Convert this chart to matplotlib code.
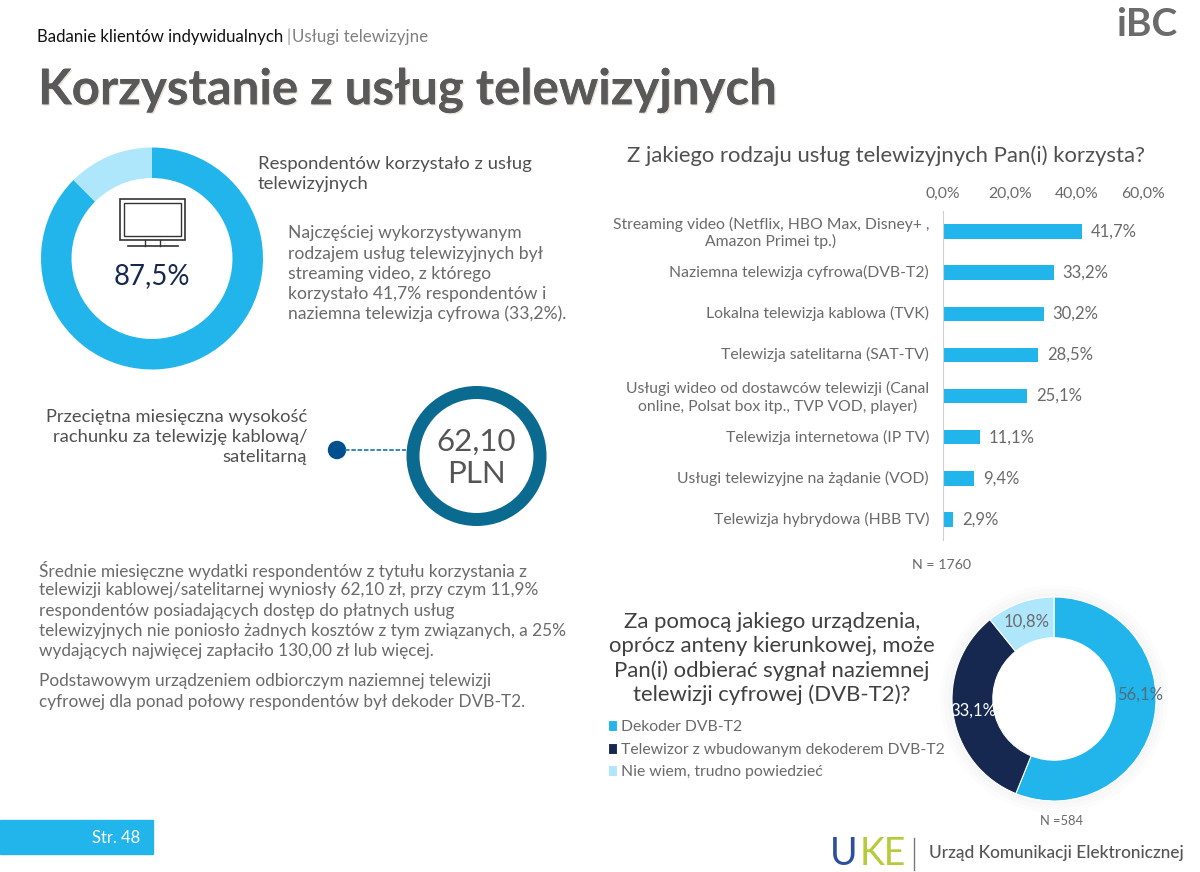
import math
import matplotlib
matplotlib.use("Agg")
from matplotlib import pyplot as plt
from matplotlib import patheffects as pe
from matplotlib.patches import Rectangle, Circle
from matplotlib.transforms import ScaledTranslation

plt.rcParams['font.family'] = ['Lato', 'DejaVu Sans']

W, H = 1200, 872
BLUE = '#22b5ec'
NAVY = '#16284f'
LIGHT = '#aee6fb'
TEAL = '#0b6a8f'
GREY = '#6a6a6a'

# top donut
used_share = [87.5, 12.5]
used_label = '87,5%'

# bars
bar_labels = [
    'Streaming video (Netflix, HBO Max, Disney+ ,\nAmazon Primei tp.)',
    'Naziemna telewizja cyfrowa(DVB-T2)',
    'Lokalna telewizja kablowa (TVK)',
    'Telewizja satelitarna (SAT-TV)',
    'Usługi wideo od dostawców telewizji (Canal\nonline, Polsat box itp., TVP VOD, player)',
    'Telewizja internetowa (IP TV)',
    'Usługi telewizyjne na żądanie (VOD)',
    'Telewizja hybrydowa (HBB TV)',
]
bar_values = [41.7, 33.2, 30.2, 28.5, 25.1, 11.1, 9.4, 2.9]
bar_ticks = [0, 20, 40, 60]

# device donut
device_labels = ['Dekoder DVB-T2', 'Telewizor z wbudowanym dekoderem DVB-T2', 'Nie wiem, trudno powiedzieć']
device_values = [56.1, 33.1, 10.8]
device_colors = [BLUE, NAVY, LIGHT]
device_text = ['#4f6f7c', 'white', GREY]
device_nudge = [(4, 14), (0, 0), (0, 0)]


def pct(v):
    return f'{v:.1f}%'.replace('.', ',')


def px_axes(left, top, right, bottom):
    return fig.add_axes([left / W, 1 - bottom / H, (right - left) / W, (bottom - top) / H])


fig = plt.figure(figsize=(12, 8.72), dpi=100, facecolor='white')

# page layer, in pixels
page = fig.add_axes([0, 0, 1, 1])
page.set_xlim(0, W)
page.set_ylim(H, 0)
page.axis('off')


def lines(x, ys, rows, **kw):
    for y, row in zip(ys, rows):
        page.text(x, y + 1, row, va='center', **kw)


page.text(37, 37, 'Badanie klientów indywidualnych', fontsize=12.1, color='#111111', va='center')
page.text(287, 37, '|', fontsize=12.1, color='#999999', va='center')
page.text(292, 37, 'Usługi telewizyjne', fontsize=12.2, color='#808080', va='center')
title = page.text(38, 90, 'Korzystanie z usług telewizyjnych', fontsize=35.4, fontweight='bold', color='#595959', va='center')
title.set_path_effects([pe.withSimplePatchShadow(offset=(1, -1), shadow_rgbFace='#b9a184', alpha=0.3), pe.Normal()])
page.text(1147, 24, 'iBC', fontsize=28, fontweight='bold', color='#6b6b6b', ha='center', va='center')

# top donut
ax = px_axes(41, 147, 263, 370)
ax.pie(used_share, colors=[BLUE, LIGHT], startangle=90, counterclock=False, radius=1,
       wedgeprops={'width': 0.275})
ax.set_xlim(-1, 1)
ax.set_ylim(-1, 1)

# tv icon
page.add_patch(Rectangle((120, 199), 65, 41, fill=False, ec='#333333', lw=1.2, zorder=5))
page.add_patch(Rectangle((124, 203), 57, 33, fill=False, ec='#333333', lw=1.0, zorder=5))
page.plot([145, 145], [240, 246], color='#333333', lw=1.0, zorder=5)
page.plot([160, 160], [240, 246], color='#333333', lw=1.0, zorder=5)
page.plot([128, 178], [246.5, 246.5], color='#333333', lw=1.2, zorder=5)
page.text(152, 276, used_label, fontsize=19.8, color=NAVY, ha='center', va='center', zorder=5)

lines(258, [163, 183], ['Respondentów korzystało z usług', 'telewizyjnych'], fontsize=13.3, color='#505050')
lines(288, [232, 253, 273, 293, 313],
      ['Najczęściej wykorzystywanym', 'rodzajem usług telewizyjnych był', 'streaming video, z którego',
       'korzystało 41,7% respondentów i', 'naziemna telewizja cyfrowa (33,2%).'],
      fontsize=12.6, color=GREY)

lines(307, [416, 436, 456], ['Przeciętna miesięczna wysokość', 'rachunku za telewizję kablową/', 'satelitarną'],
      fontsize=13.25, color='#505050', ha='right')
page.plot([345, 406], [450, 450], color='#2b7fb0', lw=1.3, ls=(0, (2.5, 1)))
page.add_patch(Circle((337, 450), 8.5, color='#00508f'))
page.add_patch(Circle((476.5, 456), 63.5, fill=False, ec=TEAL, lw=13 * 0.72))
page.text(476, 442, '62,10', fontsize=22.5, color='#555555', ha='center', va='center')
page.text(476, 474, 'PLN', fontsize=22.5, color='#555555', ha='center', va='center')

lines(39, [569, 589, 610, 630, 650],
      ['Średnie miesięczne wydatki respondentów z tytułu korzystania z',
       'telewizji kablowej/satelitarnej wyniosły 62,10 zł, przy czym 11,9%',
       'respondentów posiadających dostęp do płatnych usług',
       'telewizyjnych nie poniosło żadnych kosztów z tym związanych, a 25%',
       'wydających najwięcej zapłaciło 130,00 zł lub więcej.'],
      fontsize=12.45, color=GREY)
lines(39, [680, 701],
      ['Podstawowym urządzeniem odbiorczym naziemnej telewizji',
       'cyfrowej dla ponad połowy respondentów był dekoder DVB-T2.'],
      fontsize=12.45, color=GREY)

page.add_patch(Rectangle((0, 820), 153, 34, color=BLUE))
page.text(116, 838, 'Str. 48', fontsize=12, color='white', ha='center', va='center')

# bar chart
page.text(627, 156, 'Z jakiego rodzaju usług telewizyjnych Pan(i) korzysta?', fontsize=15.9, color='#505050', va='center')
ax = px_axes(943, 211, 1143, 540)
y = list(range(len(bar_values)))
ax.barh(y, bar_values, height=0.35, color=BLUE)
ax.set_xlim(0, 60)
ax.set_ylim(len(bar_values) - 0.5, -0.5)
ax.set_yticks(y, bar_labels, multialignment='center')
ax.set_xticks(bar_ticks, [pct(t) for t in bar_ticks])
ax.xaxis.tick_top()
ax.tick_params(length=0, labelcolor=GREY, labelsize=11.3)
ax.tick_params(axis='y', pad=10)
ax.tick_params(axis='x', pad=7)
# labels sit a bit above the bar centres
up = ScaledTranslation(0, 1.5 / 100, fig.dpi_scale_trans)
for lab in ax.get_yticklabels():
    lab.set_transform(lab.get_transform() + up)
for name in ['top', 'right', 'bottom']:
    ax.spines[name].set_visible(False)
ax.spines['left'].set_color('#d0d0d0')
for i, v in enumerate(bar_values):
    ax.annotate(pct(v), (v, i), xytext=(6.5, 0), textcoords='offset points', va='center',
                fontsize=12, color=GREY)
page.text(942, 565, 'N = 1760', fontsize=10.2, color=GREY, ha='center', va='center')

# device question
for yy, row in zip([621.5, 646, 670.5, 695],
                   ['Za pomocą jakiego urządzenia,', 'oprócz anteny kierunkowej, może',
                    'Pan(i) odbierać sygnał naziemnej', 'telewizji cyfrowej (DVB-T2)?']):
    page.text(772, yy, row, fontsize=15.9, color='#404040', ha='center', va='center')

# soft shadow round the donut
for extra in [4, 8, 12]:
    page.add_patch(Circle((1054, 699), 102 + extra, color='#000000', alpha=0.012, lw=0))

ax = px_axes(952, 597, 1156, 801)
wedges, _ = ax.pie(device_values, colors=device_colors, startangle=90, counterclock=False, radius=1,
                   wedgeprops={'width': 0.4, 'edgecolor': 'white', 'linewidth': 0.8})
ax.set_xlim(-1, 1)
ax.set_ylim(-1, 1)
ax.add_patch(Circle((0, 0), 0.6, color='white', zorder=0.5))
ax.patch.set_visible(False)
for w, v, c, n in zip(wedges, device_values, device_text, device_nudge):
    a = math.radians((w.theta1 + w.theta2) / 2)
    ax.annotate(pct(v), (0.8 * math.cos(a), 0.8 * math.sin(a)), xytext=n, textcoords='offset points',
                ha='center', va='center', fontsize=12, color=c, annotation_clip=False)
fig.legend(wedges, device_labels, loc='upper left', bbox_to_anchor=(608 / W, 1 - 720 / H), frameon=False,
           fontsize=11.35, labelcolor=GREY, handlelength=0.55, handleheight=0.7, handletextpad=0.25,
           labelspacing=0.55, borderpad=0, borderaxespad=0)
page.text(1062, 821, 'N =584', fontsize=9.3, color=GREY, ha='center', va='center')

# uke logo
page.text(830, 854, 'U', fontsize=27, color='#2c4f9e', va='center')
page.text(860, 854, 'KE', fontsize=27, color='#b4cc3a', va='center')
page.plot([914, 914], [838, 870], color='#777777', lw=1)
page.text(929, 853, 'Urząd Komunikacji Elektronicznej', fontsize=12.45, fontweight='medium', color='#555555', va='center')

fig.savefig('out.png', dpi=100)
